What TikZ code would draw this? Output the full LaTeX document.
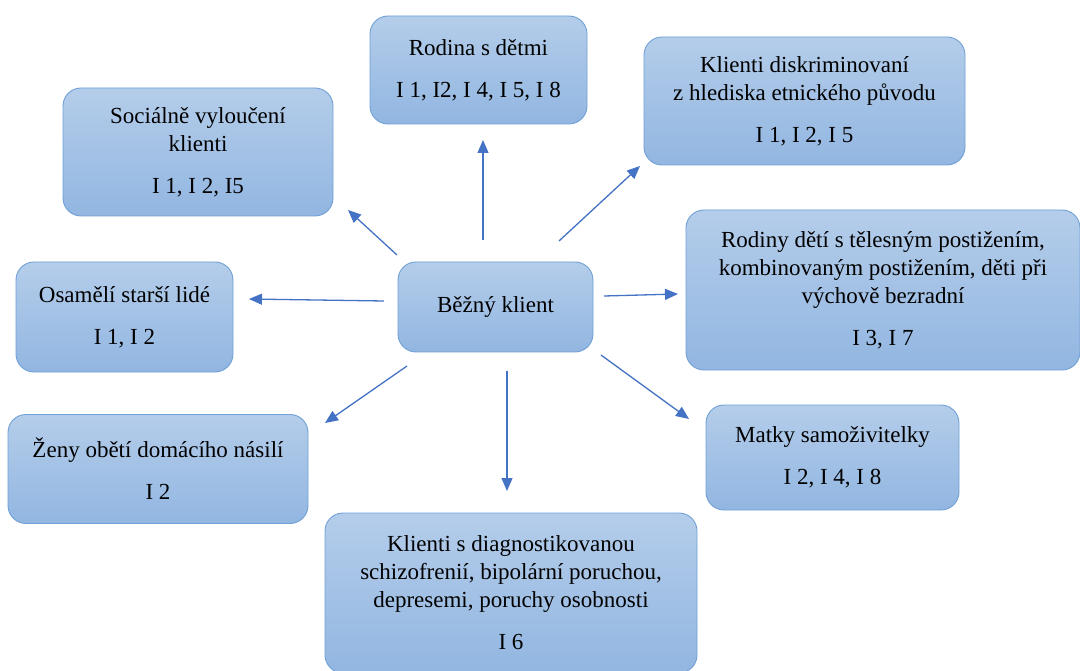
\documentclass[tikz,border=0pt]{standalone}
\usepackage{fontspec}
\setmainfont{Liberation Serif}
\usetikzlibrary{arrows.meta}
\definecolor{boxtop}{RGB}{180,205,234}
\definecolor{boxbot}{RGB}{146,182,225}
\definecolor{boxline}{RGB}{112,160,214}
\definecolor{arrowblue}{RGB}{68,114,196}
\tikzset{
  catbox/.style={draw=boxline, line width=0.9pt, rounded corners=18pt,
    top color=boxtop, bottom color=boxbot, align=center, inner sep=0pt,
    font=\fontsize{23}{28}\selectfont, text=black},
  arr/.style={draw=arrowblue, line width=1.3pt,
    -{Triangle[length=13pt,width=11pt]}}
}
\begin{document}
\begin{tikzpicture}[x=1pt,y=-1pt]
\useasboundingbox (0,0) rectangle (1080,671);
% boxes
\node[catbox, minimum width=195pt, minimum height=90pt] (B) at (495.5,307) {Běžný klient};
\node[catbox, minimum width=217pt, minimum height=108pt] (R) at (478.5,70) {Rodina s dětmi\\[14pt]I 1, I2, I 4, I 5, I 8};
\node[catbox, minimum width=270pt, minimum height=128pt] (S) at (198,152) {Sociálně vyloučení\\klienti\\[14pt]I 1, I 2, I5};
\node[catbox, minimum width=321pt, minimum height=128pt] (K) at (804.5,101) {Klienti diskriminovaní\\z hlediska etnického původu\\[14pt]I 1, I 2, I 5};
\node[catbox, minimum width=394pt, minimum height=160pt] (D) at (883,290) {Rodiny dětí s tělesným postižením,\\kombinovaným postižením, děti při\\výchově bezradní\\[14pt]I 3, I 7};
\node[catbox, minimum width=217pt, minimum height=110pt] (O) at (124.5,317) {Osamělí starší lidé\\[14pt]I 1, I 2};
\node[catbox, minimum width=300pt, minimum height=109pt] (Z) at (158,469) {Ženy obětí domácího násilí\\[14pt]I 2};
\node[catbox, minimum width=253pt, minimum height=105pt] (M) at (832.5,457.5) {Matky samoživitelky\\[14pt]I 2, I 4, I 8};
\node[catbox, minimum width=372pt, minimum height=160pt] (P) at (511,593) {Klienti s diagnostikovanou\\schizofrenií, bipolární poruchou,\\depresemi, poruchy osobnosti\\[14pt]I 6};
% arrow end points
\coordinate (r1) at (483,240); \coordinate (r2) at (483,140);
\coordinate (s1) at (397,255); \coordinate (s2) at (348,210);
\coordinate (k1) at (559,241); \coordinate (k2) at (640,166);
\coordinate (d1) at (604,296); \coordinate (d2) at (678,294);
\coordinate (o1) at (384,301); \coordinate (o2) at (249,299);
\coordinate (z1) at (407,366); \coordinate (z2) at (325,423);
\coordinate (p1) at (507,371); \coordinate (p2) at (507,491);
\coordinate (m1) at (601,355); \coordinate (m2) at (689,419);
\draw[arr] (r1) -- (r2);
\draw[arr] (s1) -- (s2);
\draw[arr] (k1) -- (k2);
\draw[arr] (d1) -- (d2);
\draw[arr] (o1) -- (o2);
\draw[arr] (z1) -- (z2);
\draw[arr] (p1) -- (p2);
\draw[arr] (m1) -- (m2);
\end{tikzpicture}
\end{document}
